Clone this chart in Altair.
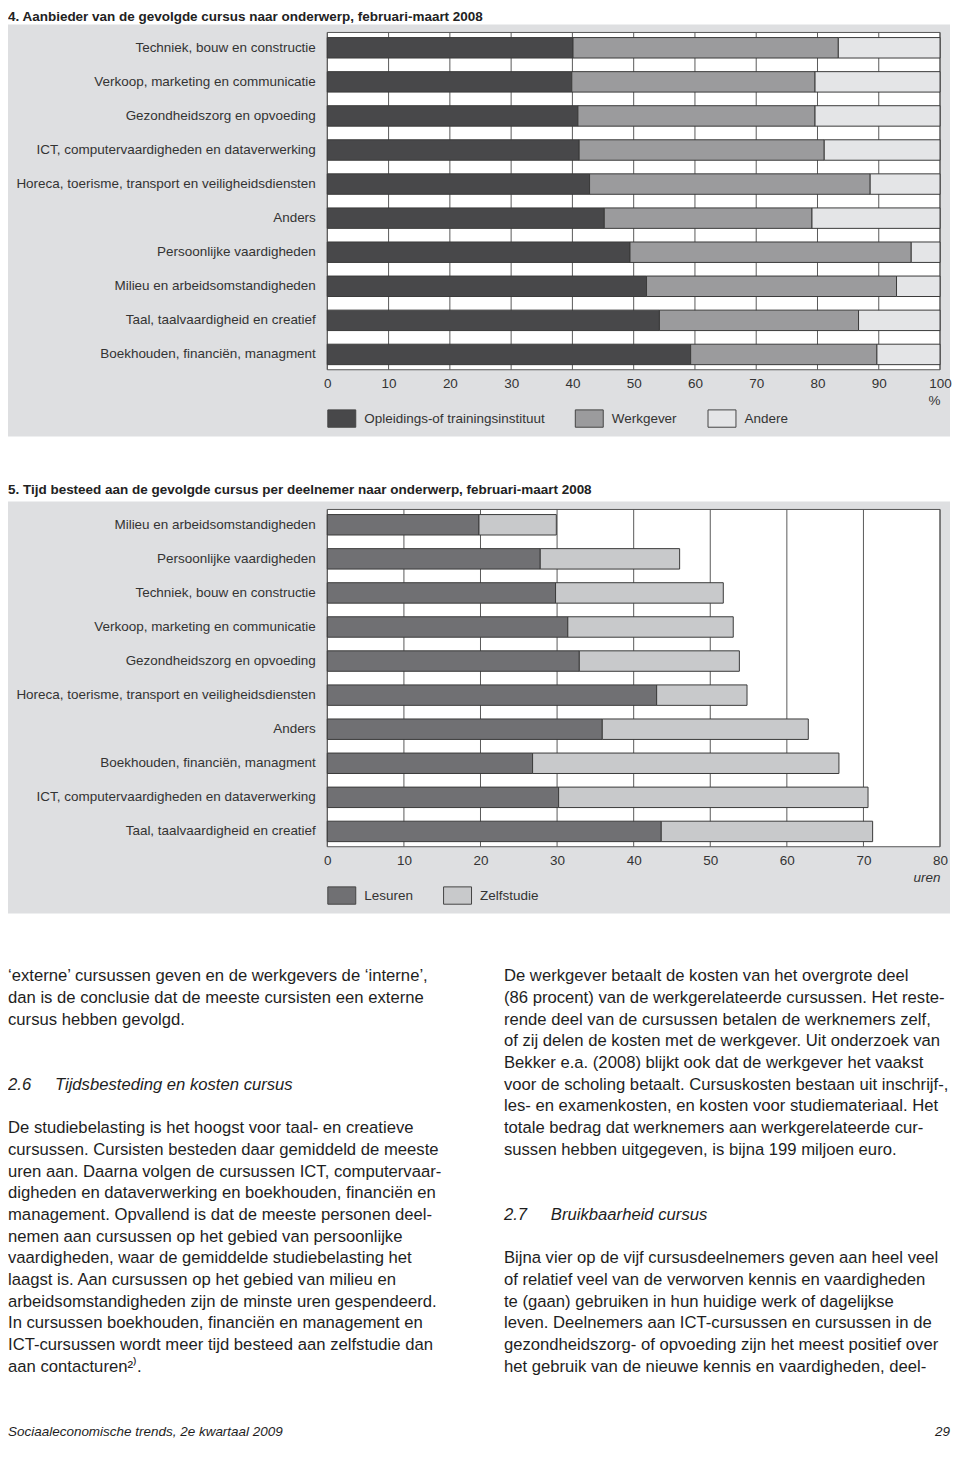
import altair as alt
import pandas as pd

FONT = "Liberation Sans"
PANEL = "#dedfe1"
INK = "#1e1e1e"

# ---------------- Chart 4 ----------------
c4_title = "4. Aanbieder van de gevolgde cursus naar onderwerp, februari-maart 2008"
c4_topics = [
    "Techniek, bouw en constructie",
    "Verkoop, marketing en communicatie",
    "Gezondheidszorg en opvoeding",
    "ICT, computervaardigheden en dataverwerking",
    "Horeca, toerisme, transport en veiligheidsdiensten",
    "Anders",
    "Persoonlijke vaardigheden",
    "Milieu en arbeidsomstandigheden",
    "Taal, taalvaardigheid en creatief",
    "Boekhouden, financiën, managment",
]
c4_series = ["Opleidings-of trainingsinstituut", "Werkgever", "Andere"]
c4_opleiding = [40.1, 39.9, 40.9, 41.1, 42.8, 45.2, 49.4, 52.1, 54.2, 59.3]
c4_werkgever = [43.3, 39.7, 38.7, 40.0, 45.8, 33.9, 45.9, 40.8, 32.5, 30.4]
c4_andere = [16.6, 20.4, 20.4, 18.9, 11.4, 20.9, 4.7, 7.1, 13.3, 10.3]
c4_ticks = [0, 10, 20, 30, 40, 50, 60, 70, 80, 90, 100]
c4_unit = "%"
c4_colors = ["#48484a", "#9b9b9d", "#e4e5e7"]

# ---------------- Chart 5 ----------------
c5_title = "5. Tijd besteed aan de gevolgde cursus per deelnemer naar onderwerp, februari-maart 2008"
c5_topics = [
    "Milieu en arbeidsomstandigheden",
    "Persoonlijke vaardigheden",
    "Techniek, bouw en constructie",
    "Verkoop, marketing en communicatie",
    "Gezondheidszorg en opvoeding",
    "Horeca, toerisme, transport en veiligheidsdiensten",
    "Anders",
    "Boekhouden, financiën, managment",
    "ICT, computervaardigheden en dataverwerking",
    "Taal, taalvaardigheid en creatief",
]
c5_series = ["Lesuren", "Zelfstudie"]
c5_lesuren = [19.8, 27.8, 29.8, 31.4, 32.9, 43.0, 35.9, 26.8, 30.2, 43.6]
c5_zelfstudie = [10.1, 18.2, 21.9, 21.6, 20.9, 11.8, 26.9, 40.0, 40.4, 27.6]
c5_ticks = [0, 10, 20, 30, 40, 50, 60, 70, 80]
c5_unit = "uren"
c5_colors = ["#707073", "#c8c9cb"]

# ---------------- Body text ----------------
left_lines = [
    (0, "‘externe’ cursussen geven en de werkgevers de ‘interne’,"),
    (1, "dan is de conclusie dat de meeste cursisten een externe"),
    (2, "cursus hebben gevolgd."),
    (7, "De studiebelasting is het hoogst voor taal- en creatieve"),
    (8, "cursussen. Cursisten besteden daar gemiddeld de meeste"),
    (9, "uren aan. Daarna volgen de cursussen ICT, computervaar-"),
    (10, "digheden en dataverwerking en boekhouden, financiën en"),
    (11, "management. Opvallend is dat de meeste personen deel-"),
    (12, "nemen aan cursussen op het gebied van persoonlijke"),
    (13, "vaardigheden, waar de gemiddelde studiebelasting het"),
    (14, "laagst is. Aan cursussen op het gebied van milieu en"),
    (15, "arbeidsomstandigheden zijn de minste uren gespendeerd."),
    (16, "In cursussen boekhouden, financiën en management en"),
    (17, "ICT-cursussen wordt meer tijd besteed aan zelfstudie dan"),
    (18, "aan contacturen²⁾."),
]
right_lines = [
    (0, "De werkgever betaalt de kosten van het overgrote deel"),
    (1, "(86 procent) van de werkgerelateerde cursussen. Het reste-"),
    (2, "rende deel van de cursussen betalen de werknemers zelf,"),
    (3, "of zij delen de kosten met de werkgever. Uit onderzoek van"),
    (4, "Bekker e.a. (2008) blijkt ook dat de werkgever het vaakst"),
    (5, "voor de scholing betaalt. Cursuskosten bestaan uit inschrijf-,"),
    (6, "les- en examenkosten, en kosten voor studiemateriaal. Het"),
    (7, "totale bedrag dat werknemers aan werkgerelateerde cur-"),
    (8, "sussen hebben uitgegeven, is bijna 199 miljoen euro."),
    (13, "Bijna vier op de vijf cursusdeelnemers geven aan heel veel"),
    (14, "of relatief veel van de verworven kennis en vaardigheden"),
    (15, "te (gaan) gebruiken in hun huidige werk of dagelijkse"),
    (16, "leven. Deelnemers aan ICT-cursussen en cursussen in de"),
    (17, "gezondheidszorg- of opvoeding zijn het meest positief over"),
    (18, "het gebruik van de nieuwe kennis en vaardigheden, deel-"),
]
left_heading = (5, "2.6", "Tijdsbesteding en kosten cursus")
right_heading = (11, "2.7", "Bruikbaarheid cursus")
footer_row = 21.0
footer_left = "Sociaaleconomische trends, 2e kwartaal 2009"
footer_right = "29"

W, H = 614, 338
RIGHT_PAD = 10


def panel(title, topics, series, columns, colors, ticks, unit, unit_style, title_offset):
    rows = []
    for i, t in enumerate(topics):
        for k, s in enumerate(series):
            rows.append({"topic": t, "series": s, "value": columns[k][i], "ord": k})
    df = pd.DataFrame(rows)
    xscale = alt.Scale(domain=[ticks[0], ticks[-1]], nice=False, zero=True)
    xaxis = alt.Axis(
        values=ticks, format="d", title=unit, grid=False, domain=False, ticks=False,
        tickSize=0, labelPadding=7, labelFontSize=13.5, labelColor="#333", labelFont=FONT,
        labelFlush=False, labelOverlap=False, titleFont=FONT, titleFontSize=13.5,
        titleFontWeight="normal", titleFontStyle=unit_style, titleColor="#333",
        titleAnchor="end", titlePadding=3, zindex=1,
    )
    bg = alt.Chart(pd.DataFrame({"a": [0]})).mark_rect(color=PANEL).encode(
        x=alt.value(-320), x2=alt.value(W + RIGHT_PAD), y=alt.value(-8), y2=alt.value(H + 67)
    )
    plotbg = alt.Chart(pd.DataFrame({"a": [0]})).mark_rect(
        fill="white", stroke="#555", strokeWidth=1
    ).encode(x=alt.value(0), x2=alt.value(W), y=alt.value(0), y2=alt.value(H))
    grid = alt.Chart(pd.DataFrame({"value": ticks})).mark_rule(
        color="#5a5a5a", strokeWidth=1
    ).encode(x=alt.X("value:Q", scale=xscale, axis=xaxis), y=alt.value(0), y2=alt.value(H))
    bars = alt.Chart(df).mark_bar(stroke="#3a3a3a", strokeWidth=1, opacity=1).encode(
        x=alt.X("value:Q", stack="zero", scale=xscale, axis=xaxis),
        y=alt.Y(
            "topic:N", sort=topics,
            scale=alt.Scale(paddingInner=0.4, paddingOuter=0.15),
            axis=alt.Axis(
                title=None, grid=False, domain=False, ticks=False, tickSize=0,
                labelPadding=12, labelFontSize=13.5, labelColor="#333", labelFont=FONT,
                labelLimit=400, zindex=1,
            ),
        ),
        color=alt.Color(
            "series:N",
            scale=alt.Scale(domain=series, range=colors),
            legend=alt.Legend(
                orient="none", legendX=0, legendY=372, direction="horizontal", title=None,
                symbolType="M-1,-0.62H1V0.62H-1Z", symbolSize=784,
                symbolStrokeColor="#444", symbolStrokeWidth=1, symbolOpacity=1,
                labelFontSize=13.5, labelColor="#333", labelFont=FONT, labelOffset=8,
                labelLimit=400, columnPadding=28, padding=0,
            ),
        ),
        order=alt.Order("ord:Q"),
    )
    return alt.layer(bg, plotbg, grid, bars).properties(
        width=W, height=H,
        title=alt.TitleParams(
            title, anchor="start", frame="bounds", fontSize=13.5, fontWeight="bold",
            font=FONT, color="#222", offset=title_offset,
        ),
    )


c4 = panel(c4_title, c4_topics, c4_series, [c4_opleiding, c4_werkgever, c4_andere],
           c4_colors, c4_ticks, c4_unit, "normal", 1)
c5 = panel(c5_title, c5_topics, c5_series, [c5_lesuren, c5_zelfstudie],
           c5_colors, c5_ticks, c5_unit, "italic", 5)

# ---------------- Text block ----------------
ROW_MIN, ROWS_MAX = -0.77, 21.3
rowscale = alt.Scale(domain=[ROW_MIN, ROWS_MAX], reverse=True, nice=False, zero=False)
TH = (ROWS_MAX - ROW_MIN) * 21.75
BODY = 16.7


def lines_df(lines):
    return pd.DataFrame({"row": [r for r, _ in lines], "text": [t for _, t in lines]})


def text_layer(df, xpix, size=BODY, style="normal", align="left"):
    return alt.Chart(df).mark_text(
        align=align, baseline="middle", fontSize=size, font=FONT, fontStyle=style, color=INK
    ).encode(x=alt.value(xpix), y=alt.Y("row:Q", scale=rowscale, axis=None), text="text:N")


L0, R0, HEAD_DX = -320, 177, 47
txt = alt.layer(
    text_layer(lines_df(left_lines), L0),
    text_layer(lines_df(right_lines), R0),
    text_layer(lines_df([(left_heading[0], left_heading[1])]), L0, style="italic"),
    text_layer(lines_df([(left_heading[0], left_heading[2])]), L0 + HEAD_DX, style="italic"),
    text_layer(lines_df([(right_heading[0], right_heading[1])]), R0, style="italic"),
    text_layer(lines_df([(right_heading[0], right_heading[2])]), R0 + HEAD_DX, style="italic"),
    text_layer(lines_df([(footer_row, footer_left)]), L0, size=13.5, style="italic"),
    text_layer(lines_df([(footer_row, footer_right)]), W + RIGHT_PAD, size=13.5, style="italic", align="right"),
).properties(width=W, height=TH)

chart = alt.vconcat(c4, c5, txt, spacing=46).resolve_scale(
    color="independent", x="independent", y="independent"
).resolve_legend(color="independent").properties(
    padding={"left": 0, "top": 0, "right": 0, "bottom": 0}
).configure(font=FONT).configure_view(stroke=None)

chart.save("out.html", embed_options={"renderer": "svg", "actions": False})
